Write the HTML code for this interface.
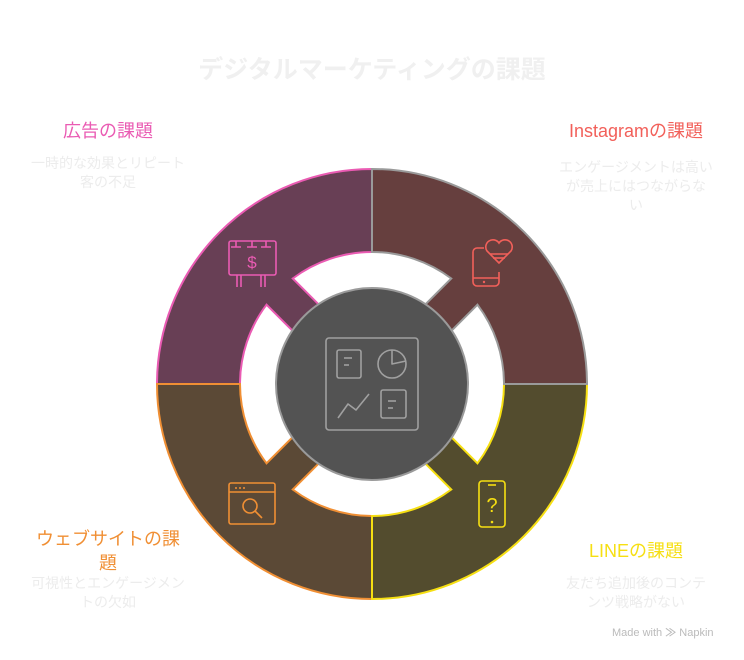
<!DOCTYPE html>
<html><head><meta charset="utf-8"><style>
html,body{margin:0;padding:0;background:#fff;}
body{width:744px;height:660px;position:relative;overflow:hidden;font-family:"Liberation Sans","Noto Sans CJK JP",sans-serif;}
.t{position:absolute;text-align:center;white-space:nowrap;}
.h{font-size:18px;line-height:22px;}
.d{font-size:14px;line-height:19px;color:#ececec;}
</style></head><body>
<div class="t" style="left:0;width:744px;top:50px;font-size:25px;font-weight:bold;color:#f0f0f0;">デジタルマーケティングの課題</div>

<div class="t h" style="left:8px;width:200px;top:120px;color:#ea5bb3;">広告の課題</div>
<div class="t d" style="left:8px;width:200px;top:154px;">一時的な効果とリピート<br>客の不足</div>

<div class="t h" style="left:536px;width:200px;top:120px;color:#f2605a;">Instagramの課題</div>
<div class="t d" style="left:536px;width:200px;top:158px;">エンゲージメントは高い<br>が売上にはつながらな<br>い</div>

<div class="t h" style="left:8px;width:200px;top:527px;line-height:24px;color:#f08f34;">ウェブサイトの課<br>題</div>
<div class="t d" style="left:8px;width:200px;top:574px;">可視性とエンゲージメン<br>トの欠如</div>

<div class="t h" style="left:536px;width:200px;top:540px;color:#f6df12;">LINEの課題</div>
<div class="t d" style="left:536px;width:200px;top:574px;">友だち追加後のコンテ<br>ンツ戦略がない</div>

<div class="t" style="left:612px;top:624px;font-size:11px;color:#bbb;">Made with <span style="font-weight:bold;">≫</span> Napkin</div>

<svg width="744" height="660" style="position:absolute;left:0;top:0" viewBox="0 0 744 660">
<defs>
<path id="q" d="M -215 0 A215 215 0 0 1 0 -215 L 0 -132 A132 132 0 0 0 -79.3 -105.5 L -49.2 -75.4 L -75.4 -49.2 L -105.5 -79.3 A132 132 0 0 0 -132 0 Z"/>
</defs>
<g transform="translate(372,384)" stroke-width="2">
<use href="#q" fill="#683f55" stroke="#ea5bb3"/>
<use href="#q" fill="#5b4936" stroke="#f08f34" transform="rotate(-90)"/>
<use href="#q" fill="#534c2e" stroke="#f6df12" transform="rotate(180)"/>
<use href="#q" fill="#663f3e" stroke="#9a9a9a" transform="rotate(90)"/>
<circle r="96" fill="#535353" stroke="#9a9a9a" stroke-width="2"/>
</g>
<!-- center icon -->
<g fill="none" stroke="#a0a0a0" stroke-width="1.6" stroke-linejoin="round">
<rect x="326" y="338" width="92" height="92" rx="3"/>
<rect x="337" y="350" width="24" height="28" rx="2"/>
<line x1="344" y1="358" x2="352" y2="358"/><line x1="344" y1="365" x2="349" y2="365"/>
<circle cx="392" cy="364" r="14"/><path d="M392 350 V364 L406 361"/>
<rect x="381" y="390" width="25" height="28" rx="2"/>
<line x1="388" y1="401" x2="396" y2="401"/><line x1="388" y1="408" x2="393" y2="408"/>
<path d="M338 418 L348 404 L356 410 L369 394"/>
</g>
<!-- billboard -->
<g fill="none" stroke="#ea5bb3" stroke-width="1.6">
<rect x="229" y="241" width="47" height="34" rx="2"/>
<path d="M236 241 v6 M231 247 h10 M252 241 v6 M247 247 h10 M266 241 v6 M261 247 h10"/>
<path d="M237 275 v12 M241 275 v12 M261 275 v12 M265 275 v12"/>
</g>
<text x="252" y="268" font-size="17" fill="#ea5bb3" text-anchor="middle" font-family="Liberation Sans">$</text>
<!-- phone heart -->
<g fill="none" stroke="#f2605a" stroke-width="1.6">
<path d="M484 248 h-7 a4 4 0 0 0 -4 4 v30 a4 4 0 0 0 4 4 h18 a4 4 0 0 0 4 -4 v-10"/>
<line x1="473" y1="278" x2="499" y2="278"/>
<path d="M499 263 L487 251 a6 6 0 0 1 12 -8 a6 6 0 0 1 12 8 Z"/>
<line x1="490" y1="254" x2="508" y2="254"/><line x1="493" y1="258" x2="505" y2="258"/>
</g>
<circle cx="484" cy="282" r="1.2" fill="#f2605a"/>
<!-- browser search -->
<g fill="none" stroke="#f08f34" stroke-width="1.6">
<rect x="229" y="483" width="46" height="41" rx="2"/>
<line x1="229" y1="492" x2="275" y2="492"/>
<circle cx="250" cy="506" r="7"/><line x1="255" y1="511" x2="262" y2="518"/>
</g>
<g fill="#f08f34"><circle cx="236" cy="488" r="1"/><circle cx="240" cy="488" r="1"/><circle cx="244" cy="488" r="1"/></g>
<!-- phone ? -->
<g fill="none" stroke="#f6df12" stroke-width="1.6">
<rect x="479" y="481" width="26" height="46" rx="3"/>
<line x1="488" y1="485" x2="496" y2="485"/>
</g>
<text x="492" y="512" font-size="20" fill="#f6df12" text-anchor="middle" font-family="Liberation Sans">?</text>
<circle cx="492" cy="522" r="1.3" fill="#f6df12"/>
</svg>
</body></html>
